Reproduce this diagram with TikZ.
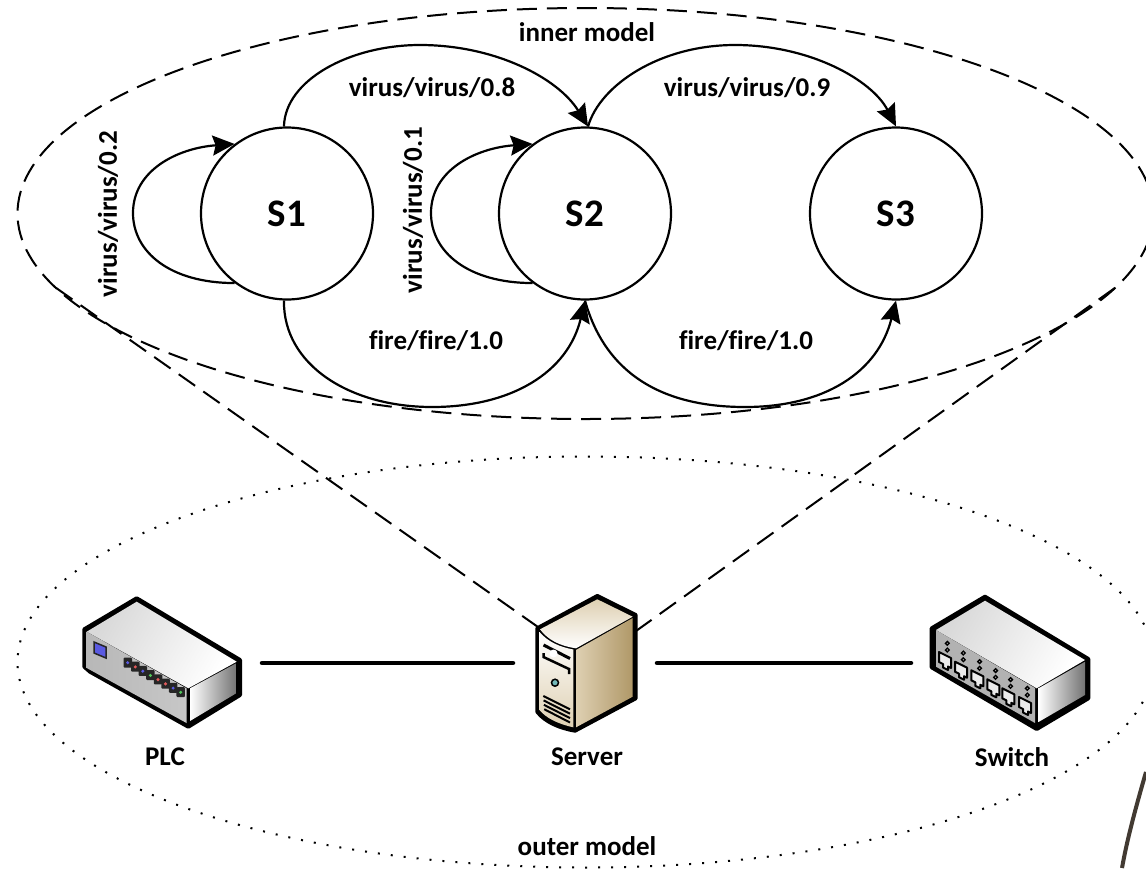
\documentclass[tikz,border=0pt]{standalone}
\usepackage{fontspec}
\setmainfont[Ligatures=NoCommon]{Carlito}
\usetikzlibrary{arrows.meta,shapes.geometric}
\definecolor{ledblue}{RGB}{90,90,225}
\definecolor{ledred}{RGB}{225,90,90}
\definecolor{ledgreen}{RGB}{80,200,90}
\definecolor{tanlight}{RGB}{244,238,224}
\definecolor{tanmid}{RGB}{222,208,178}
\definecolor{tandark}{RGB}{176,152,104}
\definecolor{strayline}{RGB}{66,58,50}
\tikzset{
  state/.style={circle,draw,line width=2.2pt,minimum size=172pt,inner sep=0pt,font=\fontsize{39}{44}\selectfont\bfseries},
  edge/.style={line width=2.2pt,-{Stealth[length=22pt,width=20pt,inset=3pt]}},
  edgelabel/.style={inner sep=0pt,font=\fontsize{27}{32}\selectfont\bfseries},
  devicelabel/.style={inner sep=0pt,font=\fontsize{27}{32}\selectfont\bfseries},
  model/.style={ellipse,line width=2pt,minimum width=1136pt,minimum height=411pt,inner sep=0pt,outer sep=0pt},
  longdash/.style={line width=2pt,dash pattern=on 20pt off 10pt},
  smalldot/.style={line width=2pt,dash pattern=on 2pt off 11pt},
  device/.style={inner sep=0pt,outer sep=0pt},
  wire/.style={line width=4.5pt,line cap=round},
  outline/.style={fill=black,draw=black,line width=4pt,line join=round}
}
\begin{document}
\begin{tikzpicture}[x=1pt,y=-1pt]
  \clip[use as bounding box] (0,0) rectangle (1146,868);

  \node[state] (s1) at (287,213.5) {S1};
  \node[state] (s2) at (585,213.5) {S2};
  \node[state] (s3) at (896,213.5) {S3};

  \draw[edge] (s1.233) .. controls (170,283) and (133,252) .. (133,213) .. controls (133,170) and (178,148) .. (s1.127);
  \draw[edge] (s2.233) .. controls (468,283) and (431,252) .. (431,213) .. controls (431,170) and (476,148) .. (s2.127);
  \draw[edge] (s1.92) .. controls (285,80) and (350,45) .. (420,45) .. controls (495,45) and (558,78) .. (s2.88);
  \draw[edge] (s2.88) .. controls (600,85) and (660,45) .. (735,45) .. controls (810,45) and (872,80) .. (s3.north);
  \draw[edge] (s1.268) .. controls (283,365) and (350,407) .. (432,407) .. controls (512,407) and (568,372) .. (s2.south);
  \draw[edge] (s2.south) .. controls (605,372) and (660,407) .. (745,407) .. controls (825,407) and (878,372) .. (s3.south);

  \node[edgelabel] (l12) at (432,88) {virus/virus/0.8};
  \node[edgelabel] (l23) at (747,88) {virus/virus/0.9};
  \node[edgelabel] (f12) at (436,341) {fire/fire/1.0};
  \node[edgelabel] (f23) at (746,341) {fire/fire/1.0};
  \node[edgelabel,rotate=90] (l11) at (108,214) {virus/virus/0.2};
  \node[edgelabel,rotate=90] (l22) at (413,210) {virus/virus/0.1};
  \node[edgelabel] (innerlabel) at (587,32) {inner model};
  \node[edgelabel] (outerlabel) at (587,846) {outer model};

  \node[model,draw,longdash] (inner) at (585.5,213.5) {};
  \node[model,draw,smalldot] (outer) at (585.5,662) {};

  \node[device,minimum width=199pt,minimum height=140pt] (plc) at (162.5,663) {};
  \node[device,minimum width=144pt,minimum height=140pt] (server) at (585,663) {};
  \node[device,minimum width=179pt,minimum height=140pt] (switch) at (1000.5,663) {};
  \coordinate (servertl) at (538,627);
  \coordinate (servertr) at (636,631);

  \draw[wire] (plc) -- (server);
  \draw[wire] (server) -- (switch);
  \draw[longdash] (inner.188.8) -- (servertl);
  \draw[longdash] (inner.-8.8) -- (servertr);

  \node[devicelabel] (plclabel) at (165,757) {PLC};
  \node[devicelabel] (serverlabel) at (587,757) {Server};
  \node[devicelabel] (switchlabel) at (1012,757) {Switch};

  \draw[outline] (136.7,598.3) -- (84.3,629.3) -- (84.3,666.7) -- (90,671.7) -- (188.3,726.7) -- (240,695) -- (240,660) -- cycle;
  \shade[left color=black!15,right color=white,shading angle=60] (86.7,631.7) -- (136.7,601.7) -- (236.7,661.7) -- (188.3,688.3) -- cycle;
  \shade[left color=black!28,middle color=black!6,right color=black!22] (86.7,631.7) -- (186.5,688.3) -- (186.5,723) -- (86.7,668) -- cycle;
  \shade[left color=white,middle color=black!15,right color=black!55] (190,688.3) -- (236.7,663) -- (236.7,693) -- (190,721) -- cycle;
  \filldraw[fill=ledblue,draw=black!85,line width=1.5pt] (94,642) -- (106,647) -- (106,658) -- (94,653) -- cycle;
  \foreach \i/\ledcolor in {0/ledblue,1/ledred,2/ledblue,3/ledgreen,4/ledred,5/ledred,6/ledblue,7/ledgreen} {
    \fill[black!85,rounded corners=1pt] ({123.5+7.57*\i},{657.5+4.23*\i}) rectangle ++(8.5,10);
    \fill[\ledcolor] ({127.7+7.57*\i},{662.7+4.23*\i}) circle (1.7);
  }

  \draw[outline] (597.3,596) -- (537.3,628.3) -- (537.3,711.7) .. controls (545,722) and (560,728) .. (575,730.7) -- (635.7,698.3) -- (635.7,615) -- cycle;
  \shade[top color=tanmid,bottom color=white] (540,629.3) -- (597.3,599.3) -- (632.7,616.7) -- (576,648.3) .. controls (560,646) and (548,640) .. cycle;
  \shade[top color=white,bottom color=tanmid] (539.5,632) .. controls (548,642) and (560,647) .. (573.3,649.5) -- (573.3,727.3) .. controls (558,724) and (546,718) .. (539.5,710) -- cycle;
  \shade[left color=tanmid,middle color=tanlight,right color=tandark] (576,650) -- (632.7,618) -- (632.7,696.7) -- (576,727.3) -- cycle;
  \draw[black,line width=3pt] (543.5,645) -- (570,658.5);
  \draw[black,line width=2.5pt] (543.5,653) -- (543.5,657) -- (569,669) -- (569,674);
  \fill[white] (553.5,653.5) circle (4);
  \filldraw[fill=teal!55,draw=black,line width=1.5pt] (555,682.7) circle (3.5);
  \foreach \i in {0,1,2,3} \draw[black,line width=2pt] ({543.3+\i*0.3},{696+\i*4.4}) -- (570,{709.3+\i*4.4});

  \draw[outline] (985,596.7) -- (931.7,628.3) -- (931.7,667.3) -- (1036.7,729) -- (1088.3,698.3) -- (1088.3,659) -- cycle;
  \shade[left color=black!15,right color=white,shading angle=60] (936,630) -- (985,600.7) -- (1085,660) -- (1036.7,688.3) -- cycle;
  \shade[left color=black!30,middle color=black!10,right color=black!30] (936,630) -- (1035,688) -- (1035,723) -- (936,666.7) -- cycle;
  \shade[left color=white,middle color=black!15,right color=black!55] (1038.5,688.3) -- (1085,661.7) -- (1085,695) -- (1038.5,722) -- cycle;
  \foreach \px/\py in {945/661,961/670.7,977.3/679.3,993.3/688.3,1008.3/697.3,1025/706} {
    \filldraw[fill=black!8,draw=black,line width=2pt,line join=round,shift={(\px,\py)}] (-6,-9) -- (6,-3) -- (6,7) -- (3,5.5) -- (3,9) -- (-2,6.5) -- (-2,3) -- (-6,1) -- cycle;
    \filldraw[fill=black!35,draw=black,line width=1.3pt] ({\px+2.3},{\py-17.7}) circle (1.9);
    \filldraw[fill=black!35,draw=black,line width=1.3pt] ({\px+2.3},{\py-11}) circle (1.9);
  }

  \draw[strayline,line width=4pt] (1146,772) .. controls (1135,810) and (1127,840) .. (1122,868);
\end{tikzpicture}
\end{document}
